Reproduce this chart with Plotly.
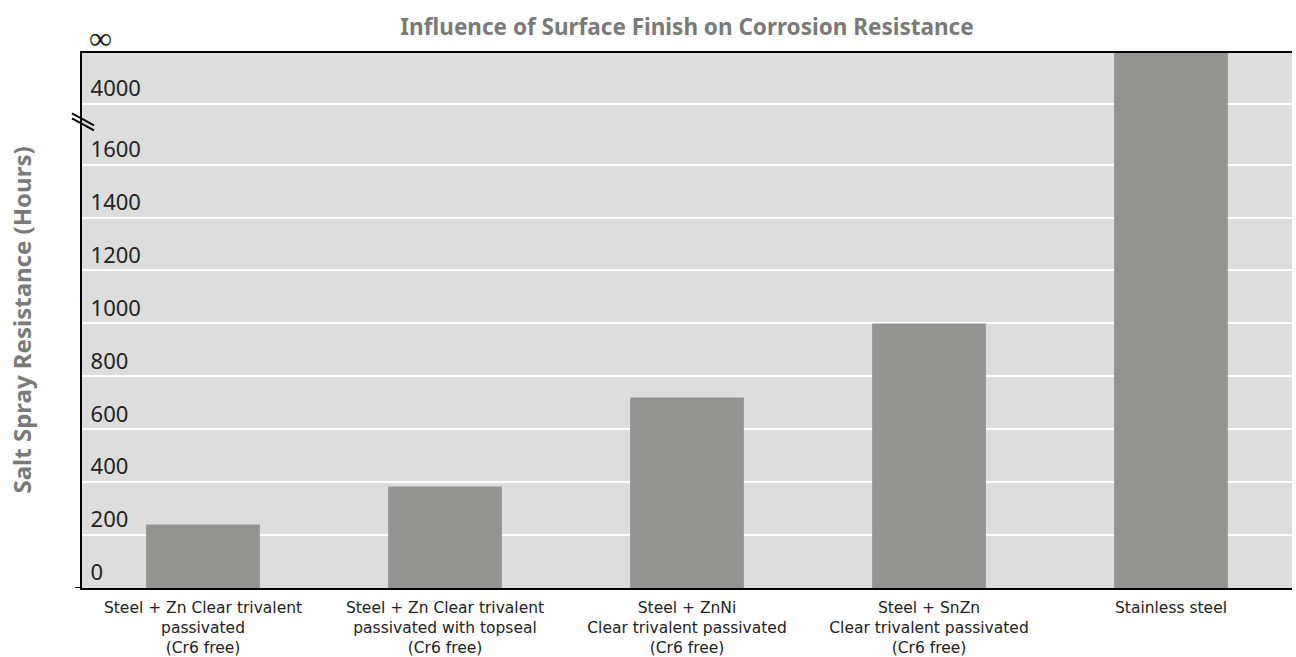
import plotly.graph_objects as go

# ---- data ----
categories = [
    "Steel + Zn Clear trivalent<br>passivated<br>(Cr6 free)",
    "Steel + Zn Clear trivalent<br>passivated with topseal<br>(Cr6 free)",
    "Steel + ZnNi<br>Clear trivalent passivated<br>(Cr6 free)",
    "Steel + SnZn<br>Clear trivalent passivated<br>(Cr6 free)",
    "Stainless steel",
]
hours = [240, 384, 720, 1000, float("inf")]

tick_hours = [0, 200, 400, 600, 800, 1000, 1200, 1400, 1600, 4000]
tick_labels = ["0", "200", "400", "600", "800", "1000", "1200", "1400", "1600", "4000"]

# ---- broken-axis scale ----
LIN_MAX = 1600          # linear part 0..1600
UNIT = 200              # hours per axis unit in the linear part
POS_4000 = 9.15         # axis position of the 4000 tick (above the break)
POS_INF = 10.11         # axis position of infinity (top of the plot)
POS_BREAK = 8.82        # where the break marks sit


def to_axis(h):
    if h == float("inf"):
        return POS_INF
    if h <= LIN_MAX:
        return h / UNIT
    return POS_4000


bar_pos = [to_axis(h) for h in hours]
tick_pos = [to_axis(h) for h in tick_hours]

FONT = "Noto Sans"
LABEL_FONT = "DejaVu Sans"

fig = go.Figure()
fig.add_trace(go.Bar(
    x=list(range(len(categories))),
    y=bar_pos,
    width=0.47,
    marker=dict(color="#939391", line=dict(width=0)),
    hoverinfo="skip",
))

fig.update_layout(
    width=1296, height=657,
    margin=dict(l=82, r=4, t=53, b=69),
    paper_bgcolor="white",
    plot_bgcolor="#dddddd",
    showlegend=False,
    title=dict(
        text="<b>Influence of Surface Finish on Corrosion Resistance</b>",
        xref="paper", x=0.5, xanchor="center", y=0.958, yanchor="middle",
        font=dict(family=FONT, size=22.5, color="#7a7a78"),
    ),
    xaxis=dict(
        tickmode="array",
        tickvals=list(range(len(categories))),
        ticktext=categories,
        range=[-0.5, len(categories) - 0.5],
        ticks="",
        showgrid=False,
        zeroline=False,
        automargin=False,
        showline=True, linecolor="black", linewidth=2, mirror=True,
        tickfont=dict(family=LABEL_FONT, size=15.5, color="#222222"),
        ticklabelstandoff=4,
    ),
    xaxis2=dict(
        overlaying="x",
        anchor="y",
        side="bottom",
        range=[-0.5, len(categories) - 0.5],
        tickmode="array",
        tickvals=[i + 0.5 for i in range(len(categories) - 1)],
        ticks="inside", ticklen=18, tickwidth=2, tickcolor="black",
        showticklabels=False,
        automargin=False,
        showgrid=False, zeroline=False, showline=False,
    ),
    yaxis=dict(
        range=[0, POS_INF],
        tickmode="array",
        tickvals=tick_pos,
        ticktext=tick_labels,
        ticks="",
        ticklabelposition="inside top",
        ticklabelstandoff=9,
        tickfont=dict(family=FONT, size=22, color="#222222"),
        showgrid=True, gridcolor="white", gridwidth=2,
        zeroline=False,
        automargin=False,
        showline=True, linecolor="black", linewidth=2,
    ),
    annotations=[
        dict(text="∞", xref="paper", yref="y", x=0, y=POS_INF,
             xanchor="left", yanchor="middle", xshift=5, yshift=17,
             showarrow=False, font=dict(family=FONT, size=32, color="#222222")),
        dict(text="<b>Salt Spray Resistance (Hours)</b>", xref="paper", yref="paper",
             x=0, y=0.5, xanchor="center", yanchor="middle", xshift=-61,
             textangle=-90, showarrow=False,
             font=dict(family=FONT, size=24, color="#7a7a78")),
    ],
    shapes=[
        # break marks on the y axis
        dict(type="line", xref="paper", yref="y", xsizemode="pixel", ysizemode="pixel",
             xanchor=0, yanchor=POS_BREAK, x0=-10, x1=12, y0=8, y1=-4,
             line=dict(color="black", width=2)),
        dict(type="line", xref="paper", yref="y", xsizemode="pixel", ysizemode="pixel",
             xanchor=0, yanchor=POS_BREAK, x0=-10, x1=12, y0=3, y1=-9,
             line=dict(color="black", width=2)),
        # axis line overhangs at the origin
        dict(type="line", xref="paper", yref="y", xsizemode="pixel", ysizemode="pixel",
             xanchor=0, yanchor=0, x0=-7, x1=0, y0=0, y1=0,
             line=dict(color="black", width=2)),
        dict(type="line", xref="paper", yref="y", xsizemode="pixel", ysizemode="pixel",
             xanchor=0, yanchor=0, x0=0, x1=0, y0=0, y1=-8,
             line=dict(color="black", width=2)),
    ],
)

fig.write_html("out.html", config={"displayModeBar": False},
               post_script="document.body.style.margin='0';")
